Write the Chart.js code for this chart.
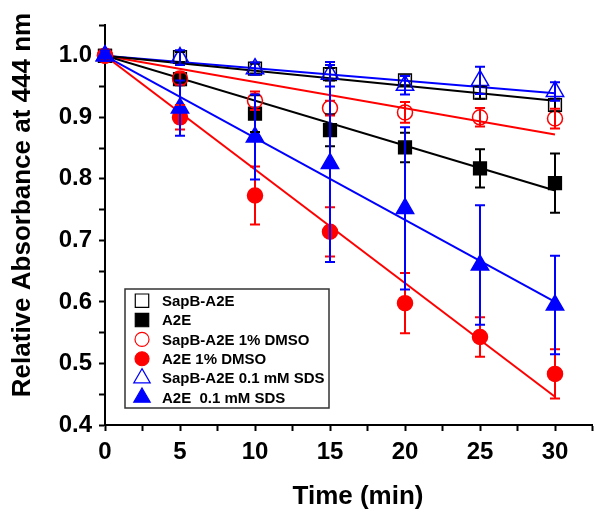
<!DOCTYPE html>
<html>
<head>
<meta charset="utf-8">
<script src="https://cdn.jsdelivr.net/npm/chart.js@4/dist/chart.umd.min.js"></script>
<style>
html,body{margin:0;padding:0;background:#fff;}
</style>
</head>
<body>
<canvas id="chart" width="604" height="515"></canvas>
<script>
// time points (min)
const times = [0, 5, 10, 15, 20, 25, 30];

const sapB        = [1.0, 0.998, 0.979, 0.970, 0.960, 0.940, 0.920];
const sapBErr     = [0.008, 0.008, 0.008, 0.010, 0.008, 0.010, 0.010];
const a2e         = [1.0, 0.962, 0.906, 0.879, 0.851, 0.817, 0.793];
const a2eErr      = [0.008, 0.010, 0.030, 0.026, 0.024, 0.031, 0.048];
const sapBDmso    = [1.0, 0.963, 0.927, 0.915, 0.908, 0.900, 0.898];
const sapBDmsoErr = [0.008, 0.010, 0.015, 0.012, 0.017, 0.015, 0.016];
const a2eDmso     = [1.0, 0.900, 0.773, 0.714, 0.598, 0.543, 0.483];
const a2eDmsoErr  = [0.008, 0.020, 0.047, 0.040, 0.049, 0.032, 0.040];
const sapBSds     = [1.0, 0.997, 0.979, 0.970, 0.952, 0.960, 0.942];
const sapBSdsErr  = [0.008, 0.012, 0.010, 0.020, 0.015, 0.022, 0.015];
const a2eSds      = [1.0, 0.915, 0.868, 0.825, 0.752, 0.660, 0.595];
const a2eSdsErr   = [0.008, 0.045, 0.069, 0.160, 0.132, 0.097, 0.080];

// linear fits: value at start and end of fitX
const fitX         = [0, 30];
const sapBFit      = [1.0, 0.927];
const a2eFit       = [1.0, 0.781];
const sapBDmsoFit  = [1.0, 0.872];
const a2eDmsoFit   = [1.0, 0.446];
const sapBSdsFit   = [1.0, 0.939];
const a2eSdsFit    = [1.0, 0.600];

const xTicks = [0, 2.5, 5, 7.5, 10, 12.5, 15, 17.5, 20, 22.5, 25, 27.5, 30, 32.5];
const xLabels = [0, 5, 10, 15, 20, 25, 30];
const yTicks = [0.4, 0.45, 0.5, 0.55, 0.6, 0.65, 0.7, 0.75, 0.8, 0.85, 0.9, 0.95, 1.0, 1.05];
const yLabels = [0.4, 0.5, 0.6, 0.7, 0.8, 0.9, 1.0];

const FONT = '"Liberation Sans", Arial, sans-serif';

const pts = (ys) => times.map((t, i) => ({x: t, y: ys[i]}));
const fit = (ys) => fitX.map((t, i) => ({x: t, y: ys[i]}));

// later series sit on top, like the original plot
function markerSet(label, ys, err, color, style, filled, r, order){
    return {
        label: label, data: pts(ys), err: err, showLine: false, clip: false,
        pointStyle: style, pointRadius: r, pointHoverRadius: r,
        borderColor: color, pointBorderWidth: 1.5, order: order,
        backgroundColor: filled ? color : 'rgba(0,0,0,0)'
    };
}
function fitSet(ys, color){
    return {
        data: fit(ys), showLine: true, pointRadius: 0, borderColor: color,
        borderWidth: 2, fill: false, order: 20
    };
}

const markers = [
    markerSet("SapB-A2E", sapB, sapBErr, "#000000", "rect", false, 9, 6),
    markerSet("A2E", a2e, a2eErr, "#000000", "rect", true, 9, 5),
    markerSet("SapB-A2E 1% DMSO", sapBDmso, sapBDmsoErr, "#ff0000", "circle", false, 7.5, 4),
    markerSet("A2E 1% DMSO", a2eDmso, a2eDmsoErr, "#ff0000", "circle", true, 7.5, 3),
    markerSet("SapB-A2E 0.1 mM SDS", sapBSds, sapBSdsErr, "#0000ff", "triangle", false, 10, 2),
    markerSet("A2E  0.1 mM SDS", a2eSds, a2eSdsErr, "#0000ff", "triangle", true, 10, 1)
];
const fits = [
    fitSet(sapBFit, "#000000"), fitSet(a2eFit, "#000000"),
    fitSet(sapBDmsoFit, "#ff0000"), fitSet(a2eDmsoFit, "#ff0000"),
    fitSet(sapBSdsFit, "#0000ff"), fitSet(a2eSdsFit, "#0000ff")
];

const errorBars = {
    id: "errorBars",
    afterDatasetsDraw(chart){
        const ctx = chart.ctx, ys = chart.scales.y;
        chart.data.datasets.forEach((ds, i) => {
            if(!ds.err) return;
            const meta = chart.getDatasetMeta(i);
            ctx.save();
            ctx.strokeStyle = ds.borderColor;
            ctx.lineWidth = 2;
            meta.data.forEach((el, j) => {
                const v = ds.data[j].y, e = ds.err[j];
                const top = ys.getPixelForValue(v + e), bot = ys.getPixelForValue(v - e);
                ctx.beginPath();
                ctx.moveTo(el.x, top); ctx.lineTo(el.x, bot);
                ctx.moveTo(el.x - 5, top); ctx.lineTo(el.x + 5, top);
                ctx.moveTo(el.x - 5, bot); ctx.lineTo(el.x + 5, bot);
                ctx.stroke();
            });
            ctx.restore();
        });
    }
};

const decorations = {
    id: "decorations",
    afterDraw(chart){
        const ctx = chart.ctx;
        ctx.save();
        ctx.fillStyle = "#000";
        ctx.font = "bold 26px " + FONT;
        ctx.textAlign = "center";
        ctx.textBaseline = "middle";
        ctx.fillText("Time (min)", 358, 497);
        ctx.translate(23, 205);
        ctx.rotate(-Math.PI / 2);
        ctx.fillText("Relative Absorbance at 444 nm", 0, 0);
        ctx.restore();

        // legend box
        ctx.save();
        ctx.fillStyle = "#fff";
        ctx.fillRect(125, 289, 204, 119);
        ctx.strokeStyle = "#333";
        ctx.lineWidth = 1.5;
        ctx.strokeRect(125, 289, 204, 119);
        ctx.font = "bold 15px " + FONT;
        ctx.textAlign = "left";
        ctx.textBaseline = "middle";
        markers.forEach((ds, i) => {
            const y = 300.7 + i * 19.35;
            ctx.strokeStyle = ds.borderColor;
            ctx.fillStyle = ds.backgroundColor;
            ctx.lineWidth = 1.2;
            Chart.helpers.drawPoint(ctx, {pointStyle: ds.pointStyle, radius: ds.pointStyle === "circle" ? 7 : 9.5, borderWidth: 1.2}, 142, y);
            ctx.fillStyle = "#000";
            ctx.fillText(ds.label, 162, y + 1);
        });
        ctx.restore();
    }
};

const near = (arr, v) => arr.some(a => Math.abs(a - v) < 1e-6);

new Chart(document.getElementById("chart"), {
    type: "scatter",
    data: {datasets: [...markers, ...fits]},
    options: {
        responsive: false,
        animation: false,
        layout: {padding: {top: 25, right: 7, left: 0, bottom: 0}},
        plugins: {legend: {display: false}, tooltip: {enabled: false}},
        scales: {
            x: {
                type: "linear", min: 0, max: 32.5,
                afterBuildTicks: s => { s.ticks = xTicks.map(v => ({value: v})); },
                afterFit: s => { s.height = 90; },
                ticks: {
                    autoSkip: false, maxRotation: 0, padding: 7, color: "#000",
                    font: {family: FONT, size: 24, weight: "bold"},
                    callback: v => near(xLabels, v) ? String(v) : ""
                },
                grid: {drawOnChartArea: false, drawTicks: true, tickLength: 6, tickWidth: 2, color: "#000"},
                border: {display: true, color: "#000", width: 2}
            },
            y: {
                type: "linear", min: 0.4, max: 1.05,
                afterBuildTicks: s => { s.ticks = yTicks.map(v => ({value: v})); },
                afterFit: s => { s.width = 105; },
                ticks: {
                    autoSkip: false, padding: 7, color: "#000",
                    font: {family: FONT, size: 24, weight: "bold"},
                    callback: v => near(yLabels, v) ? v.toFixed(1) : ""
                },
                grid: {drawOnChartArea: false, drawTicks: true, tickLength: 6, tickWidth: 2, color: "#000"},
                border: {display: true, color: "#000", width: 2}
            }
        }
    },
    plugins: [errorBars, decorations]
});
</script>
</body>
</html>
